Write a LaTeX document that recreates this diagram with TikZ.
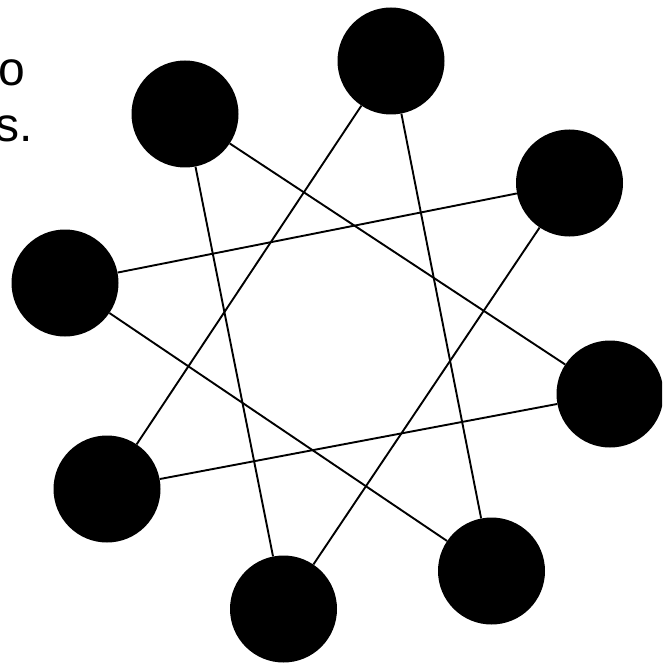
\documentclass[tikz,border=0pt]{standalone}
\usepackage{fontspec}
\setmainfont{Liberation Sans}
\usepackage{tikz}

\begin{document}
\begin{tikzpicture}[
    x=1pt, y=1pt,
    dot/.style={
        circle,
        fill=black,
        draw=none,
        minimum size=107pt,
        inner sep=0pt
    },
    link/.style={line width=1.9pt},
    word/.style={font=\fontsize{48}{56}\selectfont, inner sep=0pt}
]

\useasboundingbox (0,0) rectangle (662,-663);
\clip (0,0) rectangle (662,-663);

% the eight nodes, clockwise from the top
\node[dot] (n1) at (391,-61) {};
\node[dot] (n2) at (569.5,-183) {};
\node[dot] (n3) at (610,-394) {};
\node[dot] (n4) at (491.5,-571) {};
\node[dot] (n5) at (283.5,-609) {};
\node[dot] (n6) at (107,-489) {};
\node[dot] (n7) at (65,-283) {};
\node[dot] (n8) at (185,-114) {};

% star edges, every third node
\draw[link] (n1) -- (n4);
\draw[link] (n2) -- (n5);
\draw[link] (n3) -- (n6);
\draw[link] (n4) -- (n7);
\draw[link] (n5) -- (n8);
\draw[link] (n6) -- (n1);
\draw[link] (n7) -- (n2);
\draw[link] (n8) -- (n3);

% cut-off caption at the left edge
\node[word, anchor=base east] (w1) at (25,-86) {o};
\node[word, anchor=base east] (w2) at (33,-142) {s.};

\end{tikzpicture}
\end{document}
